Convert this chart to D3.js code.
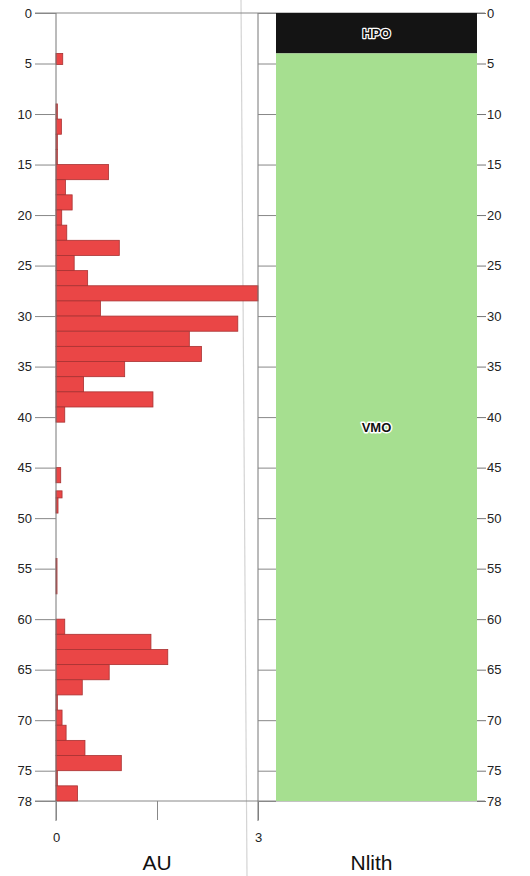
<!DOCTYPE html>
<html><head><meta charset="utf-8">
<script src="https://cdn.jsdelivr.net/npm/d3@7"></script>
<style>html,body{margin:0;padding:0;background:#fff;}svg{display:block;font-family:"Liberation Sans",Arial,sans-serif;}</style>
</head><body>
<script>
// depth bins (m) and AU values
const binTop    = [4, 9, 10.5, 12, 13.5, 15, 16.5, 18, 19.5, 21, 22.5, 24, 25.5, 27, 28.5, 30, 31.5, 33, 34.5, 36, 37.5, 39, 45, 47.3, 48, 54, 60, 61.5, 63, 64.5, 66, 67.5, 69, 70.5, 72, 73.5, 75, 76.5];
const binBottom = [5.1, 10.5, 12, 13.5, 15, 16.5, 18, 19.5, 21, 22.5, 24, 25.5, 27, 28.5, 30, 31.5, 33, 34.5, 36, 37.5, 39, 40.5, 46.5, 48, 49.5, 57.5, 61.5, 63, 64.5, 66, 67.5, 69, 70.5, 72, 73.5, 75, 76.5, 78];
const auValues  = [0.1, 0.02, 0.08, 0.02, 0.02, 0.78, 0.14, 0.24, 0.085, 0.16, 0.94, 0.27, 0.47, 3.0, 0.66, 2.70, 1.98, 2.16, 1.02, 0.41, 1.44, 0.13, 0.07, 0.09, 0.03, 0.015, 0.13, 1.41, 1.66, 0.79, 0.39, 0.02, 0.09, 0.15, 0.43, 0.97, 0.02, 0.32];
// lithology
const lithNames  = ["HPO", "VMO"];
const lithTop    = [0, 4];
const lithBottom = [4, 78];
const lithColors = ["#141414", "#a6df90"];
// ticks
const depthTicks = [0, 5, 10, 15, 20, 25, 30, 35, 40, 45, 50, 55, 60, 65, 70, 75, 78];
const auTicks = [0, 1.5, 3];
const auTickLabels = ["0", "", "3"];

const W = 530, H = 876;
const svg = d3.select("body").append("svg").attr("width", W).attr("height", H);

const y = d3.scaleLinear().domain([0, 78]).range([13, 801]);
const x = d3.scaleLinear().domain([0, 3]).range([56, 258]);
const lx0 = 276, lx1 = 477;

// scan artifact line
svg.append("line").attr("x1", 241).attr("y1", 0).attr("x2", 247).attr("y2", 876)
  .attr("stroke", "#d4d4d4").attr("stroke-width", 1.2);

// top and bottom frame lines
svg.append("line").attr("x1", 35).attr("x2", lx1 + 8).attr("y1", y(0)).attr("y2", y(0)).attr("stroke", "#888").attr("stroke-width", 1);
svg.append("line").attr("x1", 35).attr("x2", lx1 + 8).attr("y1", y(78)).attr("y2", y(78)).attr("stroke", "#888").attr("stroke-width", 1);

// bars
const bars = d3.range(auValues.length).map(i => ({t: binTop[i], b: binBottom[i], v: auValues[i]}));
svg.append("g").selectAll("rect").data(bars).join("rect")
  .attr("x", x(0))
  .attr("y", d => y(d.t))
  .attr("width", d => x(d.v) - x(0))
  .attr("height", d => y(d.b) - y(d.t))
  .attr("fill", "#ea4646")
  .attr("stroke", "#a83232")
  .attr("stroke-width", 0.8);

// left depth axis
const leftAxis = svg.append("g").attr("transform", `translate(${x(0)},0)`)
  .call(d3.axisLeft(y).tickValues(depthTicks).tickSize(21).tickPadding(3).tickFormat(d3.format("d")));
leftAxis.select(".domain").attr("stroke", "#777").attr("d", `M0,${y(0)}V${y(78) + 20}`);
leftAxis.selectAll(".tick line").attr("stroke", "#888");
leftAxis.selectAll("text").attr("font-size", 13).attr("fill", "#222");

// bottom AU axis
const bottomAxis = svg.append("g").attr("transform", `translate(0,${y(78)})`)
  .call(d3.axisBottom(x).tickValues(auTicks).tickSize(19).tickPadding(13).tickFormat((d, i) => auTickLabels[i]));
bottomAxis.select(".domain").remove();
bottomAxis.selectAll(".tick line").attr("stroke", "#888");
bottomAxis.selectAll("text").attr("font-size", 13).attr("fill", "#222");

svg.append("text").attr("x", x(1.5)).attr("y", 870).attr("text-anchor", "middle")
  .attr("font-size", 21).attr("fill", "#111").text("AU");

// lithology column
const lith = d3.range(lithNames.length).map(i => ({n: lithNames[i], t: lithTop[i], b: lithBottom[i], c: lithColors[i]}));
svg.append("g").selectAll("rect").data(lith).join("rect")
  .attr("x", lx0).attr("width", lx1 - lx0)
  .attr("y", d => y(d.t)).attr("height", d => y(d.b) - y(d.t))
  .attr("fill", d => d.c);

// lith inner left axis (ticks only)
const midAxis = svg.append("g").attr("transform", `translate(${x(3)},0)`)
  .call(d3.axisRight(y).tickValues(depthTicks).tickSize(lx0 - x(3)).tickFormat(""));
midAxis.select(".domain").attr("stroke", "#777").attr("d", `M0,${y(0)}V${y(78) + 20}`);
midAxis.selectAll(".tick line").attr("stroke", "#888");

// right axis
const rightAxis = svg.append("g").attr("transform", `translate(${lx1},0)`)
  .call(d3.axisRight(y).tickValues(depthTicks).tickSize(9).tickPadding(1).tickFormat(d3.format("d")));
rightAxis.select(".domain").remove();
rightAxis.selectAll(".tick line").attr("stroke", "#777");
rightAxis.selectAll("text").attr("font-size", 13).attr("fill", "#222");

// lith labels
svg.append("g").selectAll("text").data(lith).join("text")
  .attr("x", (lx0 + lx1) / 2)
  .attr("y", d => d.n === "HPO" ? (y(d.t) + y(d.b)) / 2 : y(41))
  .attr("dy", "0.35em")
  .attr("text-anchor", "middle")
  .attr("font-size", 13).attr("font-weight", "bold")
  .attr("fill", "#111")
  .attr("stroke", "#ffffff")
  .attr("stroke-width", d => d.n === "HPO" ? 2.4 : 3)
  .attr("stroke-linejoin", "round")
  .attr("paint-order", "stroke")
  .text(d => d.n);

svg.append("text").attr("x", (lx0 + lx1) / 2 - 5).attr("y", 870).attr("text-anchor", "middle")
  .attr("font-size", 21).attr("fill", "#111").text("Nlith");
</script>
</body></html>
